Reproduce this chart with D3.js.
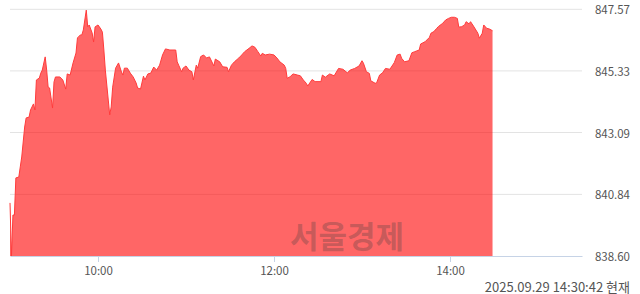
<!DOCTYPE html>
<html>
<head>
<meta charset="utf-8">
<script src="https://cdn.jsdelivr.net/npm/d3@7"></script>
<style>
  body { margin: 0; background: #fff; }
  text { font-family: "Noto Sans CJK KR", "Noto Sans", sans-serif; }
</style>
</head>
<body>
<div id="chart"></div>
<script>
// intraday index values
const times = ["09:00","09:01","09:02","09:03","09:04","09:06","09:07","09:08","09:10","09:11","09:13","09:14","09:16","09:17","09:18","09:20","09:21","09:22","09:24","09:25","09:26","09:27","09:29","09:30","09:31","09:34","09:36","09:38","09:39","09:41","09:43","09:45","09:46","09:48","09:49","09:50","09:51","09:52","09:53","09:54","09:56","09:57","09:58","10:00","10:02","10:03","10:04","10:05","10:07","10:08","10:09","10:10","10:12","10:14","10:16","10:17","10:18","10:20","10:22","10:24","10:26","10:27","10:29","10:31","10:32","10:34","10:36","10:38","10:40","10:42","10:44","10:46","10:49","10:53","10:54","10:55","10:57","10:58","11:00","11:02","11:04","11:05","11:07","11:08","11:10","11:12","11:14","11:16","11:19","11:20","11:23","11:25","11:28","11:29","11:31","11:33","11:36","11:38","11:40","11:43","11:45","11:47","11:49","11:51","11:52","11:54","11:57","12:00","12:02","12:04","12:07","12:08","12:09","12:11","12:13","12:16","12:18","12:20","12:22","12:23","12:26","12:28","12:32","12:33","12:35","12:38","12:41","12:44","12:47","12:50","12:52","12:55","12:58","13:00","13:01","13:03","13:05","13:06","13:09","13:10","13:12","13:14","13:16","13:19","13:22","13:24","13:26","13:27","13:29","13:32","13:34","13:36","13:39","13:40","13:43","13:46","13:47","13:49","13:51","13:52","13:55","13:57","13:59","14:01","14:03","14:05","14:06","14:08","14:10","14:11","14:13","14:14","14:16","14:19","14:20","14:22","14:23","14:25","14:27","14:29"];

const values = [840.53,838.60,840.09,840.09,841.44,841.47,841.84,842.20,843.29,843.62,843.65,843.91,844.13,843.91,845.00,845.07,845.25,845.36,845.84,845.36,844.74,844.71,843.98,844.93,845.11,845.11,845.00,844.67,845.22,845.18,845.62,845.98,846.53,846.64,846.64,846.82,847.18,847.54,846.93,847.00,846.71,846.38,846.93,847.00,846.85,846.74,846.09,845.36,844.27,843.73,844.02,844.74,845.43,845.62,845.29,845.18,845.43,845.43,845.25,845.11,844.89,844.71,844.67,845.14,845.00,845.22,845.25,845.47,845.36,845.54,845.91,846.13,846.09,846.09,845.66,845.54,845.30,845.43,845.51,845.36,845.30,845.00,845.54,845.43,845.85,845.91,845.80,845.84,845.51,845.76,845.66,845.48,845.46,845.30,845.54,845.66,845.80,845.91,846.03,846.15,846.24,846.19,846.03,845.87,845.97,845.91,845.94,845.91,845.80,845.66,845.54,845.42,845.06,845.12,845.22,845.18,845.15,845.00,844.88,844.78,845.02,844.94,844.94,845.18,845.10,845.22,845.15,845.42,845.39,845.26,845.36,845.42,845.51,845.70,845.61,845.30,845.24,844.97,844.88,844.90,845.18,845.26,845.42,845.39,845.63,845.91,845.94,845.79,845.66,845.70,845.99,846.03,846.09,846.31,846.39,846.55,846.70,846.76,846.88,846.94,847.06,847.18,847.24,847.28,847.28,847.24,846.92,846.94,847.00,847.12,847.04,847.12,846.96,846.70,846.52,846.70,847.00,846.88,846.85,846.79];

const yTicks = [838.60, 840.84, 843.09, 845.33, 847.57];
const xTicks = ["10:00", "12:00", "14:00"];
const sessionStart = "09:00";
const sessionEnd = "15:30";
const stamp = "2025.09.29 14:30:42 현재";
const watermark = "서울경제";

var width = 640;
var height = 294;

var svg = d3.select("#chart")
    .append("svg")
    .attr("width", width)
    .attr("height", height);

const parse = d3.timeParse("%H:%M");
const data = d3.zip(times, values).map(d => ({ t: parse(d[0]), v: d[1] }));

const x = d3.scaleTime()
    .domain([parse(sessionStart), parse(sessionEnd)])
    .range([10, 582]);

const y = d3.scaleLinear()
    .domain([yTicks[0], yTicks[yTicks.length - 1]])
    .range([256, 9.3]);

// grid lines
svg.append("g")
    .selectAll("line")
    .data(yTicks.slice(1))
    .join("line")
    .attr("x1", x.range()[0])
    .attr("x2", x.range()[1])
    .attr("y1", d => y(d))
    .attr("y2", d => y(d))
    .attr("stroke", "#e3e3e3")
    .attr("stroke-width", 1);

// y labels on the right
svg.append("g")
    .selectAll("text")
    .data(yTicks)
    .join("text")
    .attr("x", 630)
    .attr("y", d => y(d))
    .attr("text-anchor", "end")
    .attr("dominant-baseline", "central")
    .attr("font-size", "11.5px")
    .attr("fill", "#555")
    .text(d => d.toFixed(2));

// area + line
const area = d3.area()
    .x(d => x(d.t))
    .y0(y(yTicks[0]))
    .y1(d => y(d.v));

svg.append("path")
    .datum(data)
    .attr("d", area)
    .attr("fill", "#ff0000")
    .attr("fill-opacity", 0.6);

svg.append("path")
    .datum(data)
    .attr("d", d3.line().x(d => x(d.t)).y(d => y(d.v)))
    .attr("fill", "none")
    .attr("stroke", "#ff3b3b")
    .attr("stroke-width", 1);

// watermark
svg.append("text")
    .attr("x", 347)
    .attr("y", 234)
    .attr("text-anchor", "middle")
    .attr("dominant-baseline", "central")
    .attr("font-size", "31px")
    .attr("font-weight", "bold")
    .attr("fill", "#3c3c3c")
    .attr("fill-opacity", 0.3)
    .text(watermark);

// x axis
const xAxis = svg.append("g")
    .attr("transform", `translate(0, ${y(yTicks[0])})`)
    .call(d3.axisBottom(x)
        .tickValues(xTicks.map(parse))
        .tickFormat(d3.timeFormat("%H:%M"))
        .tickSize(6)
        .tickSizeOuter(0));

xAxis.select(".domain").attr("stroke", "#c6d3e6");
xAxis.selectAll(".tick line").attr("stroke", "#c6d3e6");
xAxis.selectAll(".tick text")
    .attr("fill", "#555")
    .attr("font-size", "11.5px")
    .attr("font-family", "\"Noto Sans CJK KR\", sans-serif")
    .attr("dy", "0.9em");

svg.append("text")
    .attr("x", 630)
    .attr("y", 286)
    .attr("text-anchor", "end")
    .attr("dominant-baseline", "central")
    .attr("font-size", "13px")
    .attr("fill", "#555")
    .text(stamp);
</script>
</body>
</html>
